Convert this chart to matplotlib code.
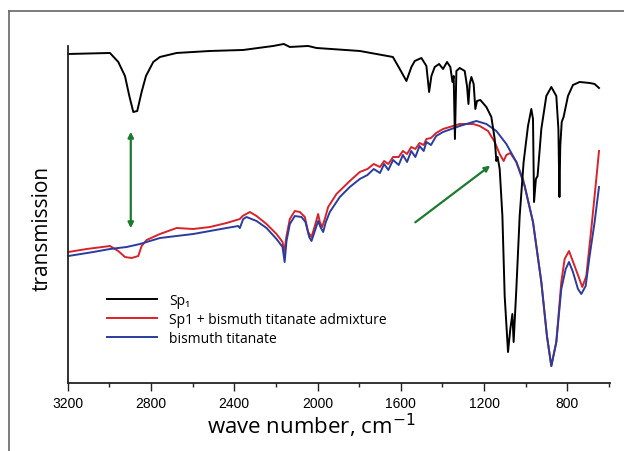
import matplotlib
matplotlib.use("Agg")
import matplotlib.pyplot as plt
from matplotlib.lines import Line2D

# ---- data (wave number in cm-1, transmission in arb. units) ----
sp1_wn = [3197, 2997, 2957, 2925, 2904, 2885, 2866, 2845, 2824, 2789, 2757, 2677, 2517, 2357, 2213,
          2162, 2133, 2045, 2005, 1797, 1638, 1605, 1573, 1549, 1533, 1501, 1477, 1464, 1453, 1437,
          1416, 1397, 1378, 1362, 1352, 1346, 1340, 1333, 1317, 1293, 1282, 1275, 1269, 1261, 1250,
          1242, 1234, 1218, 1189, 1165, 1149, 1141, 1135, 1125, 1112, 1101, 1085, 1074, 1064, 1058,
          1045, 1029, 1010, 989, 973, 965, 960, 951, 943, 925, 901, 877, 853, 843, 838,
          834, 827, 818, 797, 773, 741, 693, 669, 648]
sp1_T = [329, 330, 321, 307, 287, 271, 272, 291, 307, 321, 326, 330, 332, 333, 337,
         339, 336, 337, 335, 332, 326, 314, 302, 316, 322, 325, 317, 291, 307, 316,
         319, 314, 321, 316, 301, 307, 244, 312, 315, 312, 297, 279, 299, 306, 299,
         274, 282, 283, 276, 266, 244, 222, 226, 214, 167, 87, 31, 54, 69, 41,
         94, 167, 221, 257, 274, 264, 181, 204, 207, 254, 287, 296, 287, 254, 186,
         237, 261, 266, 287, 298, 301, 300, 299, 295]

mix_wn = [3197, 3109, 2997, 2957, 2925, 2893, 2861, 2845, 2821, 2757, 2677, 2597, 2517, 2437, 2373,
          2360, 2325, 2293, 2245, 2197, 2168, 2160, 2149, 2133, 2109, 2085, 2061, 2045, 2029, 2013,
          1997, 1989, 1978, 1965, 1949, 1909, 1845, 1797, 1760, 1730, 1700, 1680, 1660, 1637, 1610,
          1590, 1570, 1550, 1530, 1510, 1490, 1477, 1455, 1430, 1397, 1317, 1253, 1221, 1181, 1149,
          1125, 1106, 1093, 1074, 1045, 1013, 965, 925, 898, 877, 853, 829, 813, 792, 765,
          728, 709, 685, 661, 648]
mix_T = [131, 134, 137, 132, 126, 125, 127, 137, 143, 149, 155, 154, 156, 160, 164,
         167, 171, 167, 159, 149, 141, 131, 147, 164, 172, 171, 166, 151, 146, 157,
         169, 161, 156, 164, 176, 189, 202, 211, 214, 219, 216, 222, 219, 226, 226,
         232, 229, 236, 234, 240, 238, 244, 245, 250, 254, 259, 259, 257, 252, 241,
         229, 222, 228, 230, 221, 204, 161, 101, 47, 17, 41, 101, 124, 132, 117,
         96, 107, 154, 204, 232]

bt_wn = [3197, 3077, 2997, 2917, 2853, 2821, 2757, 2597, 2437, 2381, 2373, 2357, 2341, 2293, 2245,
         2197, 2168, 2158, 2149, 2133, 2109, 2077, 2058, 2040, 2029, 2013, 1997, 1986, 1973, 1960,
         1941, 1893, 1845, 1797, 1760, 1730, 1700, 1680, 1660, 1637, 1610, 1590, 1570, 1550, 1530,
         1510, 1490, 1477, 1455, 1430, 1397, 1317, 1237, 1189, 1141, 1093, 1045, 1005, 965, 925,
         898, 877, 853, 829, 808, 792, 773, 749, 733, 712, 693, 669, 648]
bt_T = [127, 131, 134, 136, 139, 141, 145, 149, 155, 157, 155, 164, 166, 162, 155,
        144, 136, 121, 142, 159, 167, 166, 161, 146, 142, 152, 162, 156, 151, 161,
        171, 186, 196, 204, 208, 214, 210, 219, 213, 223, 218, 228, 221, 232, 226,
        237, 232, 241, 238, 247, 251, 257, 262, 259, 252, 239, 221, 197, 161, 101,
        47, 17, 41, 94, 114, 121, 111, 94, 89, 97, 127, 161, 196]

labels = ["Sp\u2081", "Sp1 + bismuth titanate admixture", "bismuth titanate"]

green = "#1c7a2e"

fig = plt.figure(figsize=(6.24, 4.52), dpi=100)
ax = fig.add_axes([0.1085, 0.1504, 0.8691, 0.745])

l2, = ax.plot(mix_wn, mix_T, color="#d8232a", lw=1.4, label=labels[1], clip_on=False)
l3, = ax.plot(bt_wn, bt_T, color="#2a3c9e", lw=1.4, label=labels[2], clip_on=False)
l1, = ax.plot(sp1_wn, sp1_T, color="black", lw=1.4, label=labels[0], clip_on=False)

# green arrows
ax.annotate("", xy=(2897, 254), xytext=(2897, 152),
            arrowprops=dict(arrowstyle="<|-|>", color=green, lw=1.6, mutation_scale=8))
ax.annotate("", xy=(1160, 219), xytext=(1541, 159),
            arrowprops=dict(arrowstyle="-|>", color=green, lw=1.6, mutation_scale=8))

ax.set_xlim(3200, 595)
ax.set_ylim(0, 336.7)
ax.set_xticks([3200, 2800, 2400, 2000, 1600, 1200, 800])
ax.set_xticks([3000, 2600, 2200, 1800, 1400, 1000, 600], minor=True)
ax.set_yticks([])
ax.tick_params(axis="x", which="major", direction="out", length=5.5, width=1, pad=3.5,
               labelsize=10, color="#222")
ax.tick_params(axis="x", which="minor", direction="out", length=3, width=1, color="#222")
for t in ax.get_xticklabels():
    t.set_fontfamily("Liberation Sans")

for s in ["top", "right"]:
    ax.spines[s].set_visible(False)
for s in ["left", "bottom"]:
    ax.spines[s].set_linewidth(1.3)
    ax.spines[s].set_color("#222")

ax.set_xlabel("wave number, cm$^{-1}$", fontsize=16, family=["Open Sans", "DejaVu Sans"])
ax.xaxis.set_label_coords(0.45, -0.082)
ax.set_ylabel("transmission", fontsize=15, family=["Open Sans", "DejaVu Sans"])
ax.yaxis.set_label_coords(-0.028, 0.463)

ax.legend(handles=[l1, l2, l3], loc="upper left", bbox_to_anchor=(0.072, 0.268),
          frameon=False, borderaxespad=0, borderpad=0, handlelength=3.6,
          handletextpad=0.9, labelspacing=0.3,
          prop={"family": ["Open Sans", "DejaVu Sans"], "size": 10})

# outer grey frame of the original picture
fig.add_artist(Line2D([0.0144, 0.0144], [0, 0.9735], color="#666", lw=1.2, transform=fig.transFigure))
fig.add_artist(Line2D([0.0144, 1.0], [0.9735, 0.9735], color="#666", lw=1.2, transform=fig.transFigure))

fig.savefig("out.png", dpi=100)
